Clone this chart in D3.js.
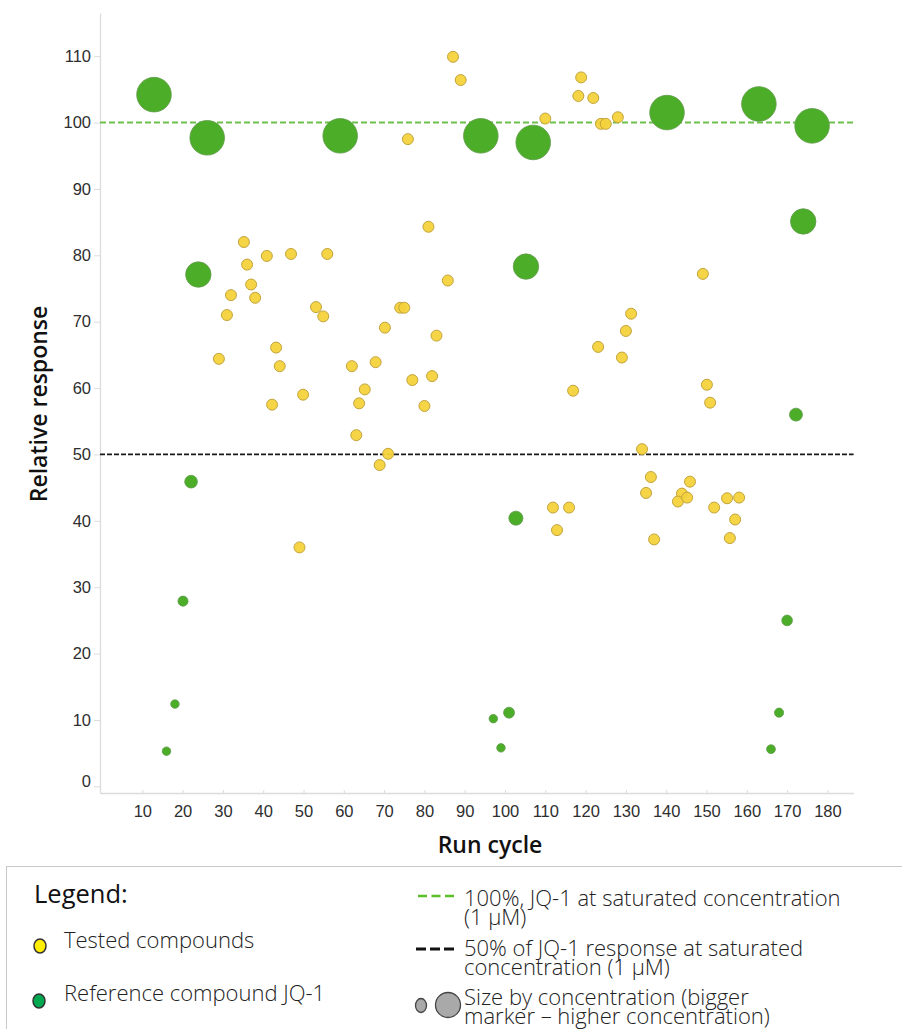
<!DOCTYPE html>
<html><head><meta charset="utf-8">
<script src="https://cdn.jsdelivr.net/npm/d3@7"></script>
<style>
html,body{margin:0;padding:0;background:#fff;}
svg{display:block;}
</style></head>
<body>
<svg id="chart" width="902" height="1029"></svg>
<script>
// ---- data ----
const testedX = [75.9,87.1,89.0,110.0,118.9,118.2,121.9,123.8,125.0,128.0,
  35.2,36.0,37.0,38.0,32.0,31.0,40.9,46.9,55.9,53.1,54.9,29.0,43.2,44.1,42.2,49.9,
  62.0,67.9,65.2,63.8,70.2,74.0,75.0,77.0,80.0,81.9,81.0,83.0,85.8,63.1,68.9,71.0,49.0,
  116.9,149.1,131.3,130.0,123.1,129.0,150.1,150.9,134.0,136.2,135.0,145.9,143.9,142.9,145.2,
  151.9,155.1,158.1,157.1,155.8,137.0,111.9,115.9,112.9];
const testedY = [97.5,109.9,106.4,100.6,106.8,104.0,103.7,99.8,99.8,100.8,
  82.0,78.6,75.6,73.6,74.0,71.0,79.9,80.2,80.2,72.2,70.8,64.4,66.1,63.3,57.5,59.0,
  63.3,63.9,59.8,57.7,69.1,72.1,72.1,61.2,57.3,61.8,84.3,67.9,76.2,52.9,48.4,50.1,36.0,
  59.6,77.2,71.2,68.6,66.2,64.6,60.5,57.8,50.8,46.6,44.2,45.9,44.1,42.9,43.5,
  42.0,43.4,43.5,40.2,37.4,37.2,42.0,42.0,38.6];

const refX = [12.9,16.0,18.1,20.1,22.1,23.9,26.1,59.1,94.0,97.1,99.0,101.0,102.7,105.2,107.0,
  140.2,163.0,166.0,168.0,170.0,172.2,174.0,176.2];
const refY = [104.2,5.3,12.4,27.9,45.9,77.1,97.7,98.0,98.0,10.2,5.8,11.1,40.4,78.3,97.0,
  101.5,102.8,5.6,11.1,25.0,56.0,85.1,99.5];
// relative concentration (1 = saturated, 1 µM)
const refConc = [1,0.06,0.06,0.085,0.135,0.54,1,1,1,0.06,0.06,0.1,0.165,0.54,1,
  1,1,0.065,0.07,0.095,0.14,0.54,1];
const testedConc = testedX.map(() => 0.12);

const xTicks = [10,20,30,40,50,60,70,80,90,100,110,120,130,140,150,160,170,180];
const yTicks = [0,10,20,30,40,50,60,70,80,90,100,110];
const refLines = [100, 50];

// ---- drawing ----
const svg = d3.select("#chart");
const x = d3.scaleLinear().domain([-0.5, 186.5]).range([100, 853.6]);
const y = d3.scaleLinear().domain([-1, 116.5]).range([793, 13]);
const r = d3.scaleSqrt().domain([0, 1]).range([0, 17.3]);

const axisColor = "#dcdcdc";
const tickFont = "'Liberation Sans', Arial, sans-serif";
const uiFont = "'Open Sans', 'Noto Sans', sans-serif";

// axes
const gx = svg.append("g").attr("transform", `translate(0,${y(-1)})`)
  .call(d3.axisBottom(x).tickValues(xTicks).tickSize(-3).tickPadding(8).tickSizeOuter(0));
const gy = svg.append("g").attr("transform", `translate(${x(-0.5)},0)`)
  .call(d3.axisLeft(y).tickValues(yTicks).tickSize(6).tickPadding(3).tickSizeOuter(0));
[gx, gy].forEach(g => {
  g.select(".domain").attr("stroke", axisColor).attr("stroke-width", 1.3);
  g.selectAll(".tick line").attr("stroke", axisColor);
  g.selectAll(".tick text").attr("fill", "#2e2e2e").attr("font-family", tickFont)
   .attr("font-size", 16.5);
});
gx.selectAll(".tick text").attr("dy", "0.95em");
gy.selectAll(".tick text").filter(d => d === 0).attr("dy", "0.0em");

// reference lines
svg.append("line").attr("x1", x(-0.5)).attr("x2", x(186.5))
  .attr("y1", y(refLines[0])).attr("y2", y(refLines[0]))
  .attr("stroke", "#6cc04a").attr("stroke-width", 2).attr("stroke-dasharray", "6,3");
svg.append("line").attr("x1", x(-0.5)).attr("x2", x(186.5))
  .attr("y1", y(refLines[1])).attr("y2", y(refLines[1]))
  .attr("stroke", "#1a1a1a").attr("stroke-width", 1.8).attr("stroke-dasharray", "5,2");

// points
const tested = testedX.map((v, i) => ({x: v, y: testedY[i], c: testedConc[i]}));
const refs = refX.map((v, i) => ({x: v, y: refY[i], c: refConc[i]}));

svg.append("g").selectAll("circle").data(refs).join("circle")
  .attr("cx", d => x(d.x)).attr("cy", d => y(d.y)).attr("r", d => r(d.c))
  .attr("fill", "#4cad29").attr("stroke", "#5f9a4a").attr("stroke-width", 0.8);

svg.append("g").selectAll("circle").data(tested).join("circle")
  .attr("cx", d => x(d.x)).attr("cy", d => y(d.y)).attr("r", d => r(d.c) - 0.5)
  .attr("fill", "#f4d23c").attr("stroke", "#c2a43c").attr("stroke-width", 1)
  .attr("fill-opacity", 0.95);

// axis titles
svg.append("text").attr("transform", `translate(47,404) rotate(-90)`)
  .attr("text-anchor", "middle").attr("font-family", uiFont).attr("font-weight", 600)
  .attr("font-size", 23).attr("fill", "#111").text("Relative response");
svg.append("text").attr("x", 490).attr("y", 853)
  .attr("text-anchor", "middle").attr("font-family", uiFont).attr("font-weight", 600)
  .attr("font-size", 23).attr("fill", "#111").text("Run cycle");

// legend
const lg = svg.append("g");
lg.append("rect").attr("x", 6.5).attr("y", 866.5).attr("width", 900).attr("height", 200)
  .attr("fill", "none").attr("stroke", "#c8c8c8");
lg.append("text").attr("x", 34).attr("y", 903).attr("font-family", uiFont)
  .attr("font-size", 25.5).attr("fill", "#111").text("Legend:");
const lf = 22;
const lw = 300;
lg.append("ellipse").attr("cx", 40).attr("cy", 946).attr("rx", 6).attr("ry", 7)
  .attr("fill", "#ffee00").attr("stroke", "#333").attr("stroke-width", 1.5);
lg.append("text").attr("x", 64).attr("y", 948).attr("font-family", uiFont)
  .attr("font-weight", lw).attr("font-size", lf).attr("fill", "#222").text("Tested compounds");
lg.append("ellipse").attr("cx", 39).attr("cy", 1001).attr("rx", 6).attr("ry", 7)
  .attr("fill", "#00a84f").attr("stroke", "#333").attr("stroke-width", 1.5);
lg.append("text").attr("x", 64).attr("y", 1001).attr("font-family", uiFont)
  .attr("font-weight", lw).attr("font-size", lf).attr("fill", "#222").text("Reference compound JQ-1");

lg.append("line").attr("x1", 418).attr("x2", 458).attr("y1", 896).attr("y2", 896)
  .attr("stroke", "#5cbf2a").attr("stroke-width", 2.5).attr("stroke-dasharray", "9,4.5");
lg.append("line").attr("x1", 416).attr("x2", 458).attr("y1", 949).attr("y2", 949)
  .attr("stroke", "#111").attr("stroke-width", 2.8).attr("stroke-dasharray", "10,4");
const rightLines = [
  ["100%, JQ-1 at saturated concentration", 906],
  ["(1 µM)", 925],
  ["50% of JQ-1 response at saturated", 956],
  ["concentration (1 µM)", 975],
  ["Size by concentration (bigger", 1005],
  ["marker – higher concentration)", 1024]
];
lg.selectAll("text.rl").data(rightLines).join("text").attr("class", "rl")
  .attr("x", 464).attr("y", d => d[1]).attr("font-family", uiFont)
  .attr("font-weight", lw).attr("font-size", lf).attr("fill", "#222").text(d => d[0]);
lg.append("ellipse").attr("cx", 421).attr("cy", 1005.5).attr("rx", 5.5).attr("ry", 7)
  .attr("fill", "#a9a9a9").attr("stroke", "#444").attr("stroke-width", 1.3);
lg.append("circle").attr("cx", 448).attr("cy", 1005).attr("r", 12.5)
  .attr("fill", "#a9a9a9").attr("stroke", "#444").attr("stroke-width", 1.3);
</script>
</body></html>
